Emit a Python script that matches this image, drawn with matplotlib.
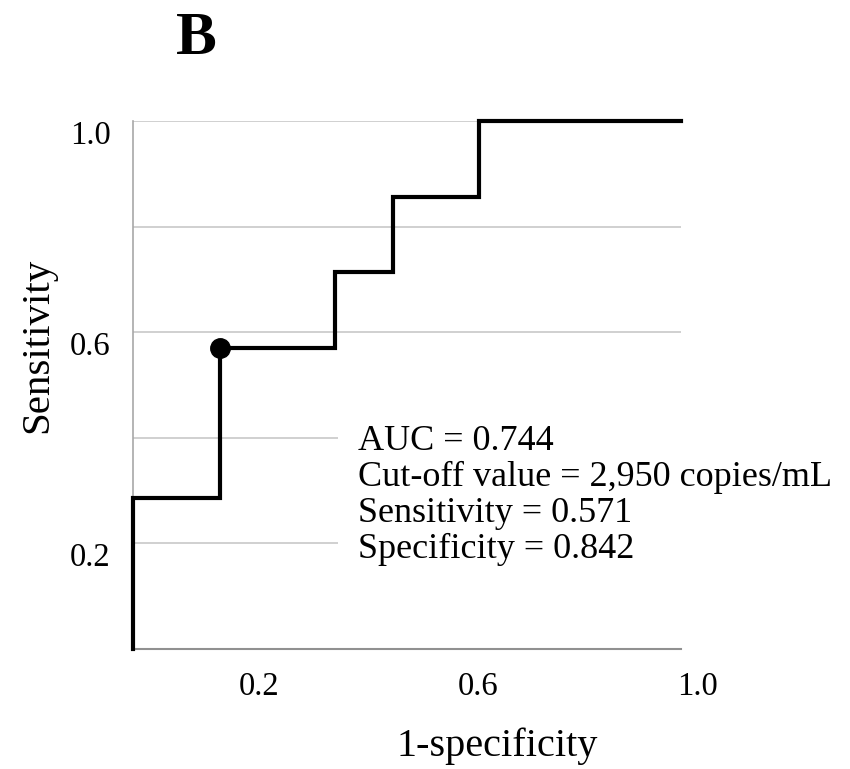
import matplotlib
matplotlib.use("Agg")
import matplotlib.pyplot as plt
import matplotlib.transforms as mtrans

plt.rcParams['font.family'] = ['Liberation Serif', 'DejaVu Serif']

# ROC curve points (1-specificity, sensitivity)
fpr = [0.0, 0.0, 0.158, 0.158, 0.368, 0.368, 0.474, 0.474, 0.632, 0.632, 1.0]
tpr = [0.0, 0.286, 0.286, 0.571, 0.571, 0.714, 0.714, 0.857, 0.857, 1.0, 1.0]
cutoff_point = (0.158, 0.571)
xticks = [0.2, 0.6, 1.0]
xtick_labels = ["0.2", "0.6", "1.0"]
yticks = [0.2, 0.6, 1.0]
ytick_labels = ["0.2", "0.6", "1.0"]
grid_y = [0.2, 0.4, 0.6, 0.8, 1.0]
annot_lines = ["AUC = 0.744", "Cut-off value = 2,950 copies/mL",
               "Sensitivity = 0.571", "Specificity = 0.842"]

fig = plt.figure(figsize=(8.5, 7.69), dpi=100)
ax = fig.add_axes([133/850, 1-649/769, (681-133)/850, (649-121)/769])
ax.set_xlim(0, 1)
ax.set_ylim(0, 1)

for gy in grid_y:
    ax.axhline(gy, color='#c8c8c8', lw=1.2, zorder=1)

ax.plot(fpr, tpr, color='black', lw=3.0, zorder=3, solid_joinstyle='miter',
        clip_on=False)
ax.plot([cutoff_point[0]], [cutoff_point[1]], 'o', color='black', ms=14, zorder=4)

for s in ['top', 'right']:
    ax.spines[s].set_visible(False)
ax.spines['left'].set_color('#a8a8a8')
ax.spines['bottom'].set_color('#909090')
ax.spines['left'].set_linewidth(1.2)
ax.spines['bottom'].set_linewidth(1.5)

ax.set_xticks(xticks)
ax.set_xticklabels(xtick_labels, fontsize=23.5)
ax.set_yticks(yticks)
ax.set_yticklabels(ytick_labels, fontsize=23.5)
ax.tick_params(axis='both', length=0)
ax.tick_params(axis='x', pad=16)
ax.tick_params(axis='y', pad=16)

dx = mtrans.ScaledTranslation(16/100, 0, fig.dpi_scale_trans)
for lab in ax.get_xticklabels():
    lab.set_transform(lab.get_transform() + dx)
dy = mtrans.ScaledTranslation(0, -11/100, fig.dpi_scale_trans)
for lab in ax.get_yticklabels():
    lab.set_transform(lab.get_transform() + dy)

ax.text(0.4106, 0.425, "\n".join(annot_lines), fontsize=26, va='top', ha='left',
        linespacing=1.12, zorder=2,
        bbox=dict(boxstyle='square,pad=0.55', facecolor='white', edgecolor='none'))

fig.text(497/850, 1-746/769, "1-specificity", fontsize=29, ha='center', va='center')
fig.text(38/850, 1-345/769, "Sensitivity", fontsize=29.5, ha='center', va='center',
         rotation=90)
fig.text(196/850, 1-39/769, "B", fontsize=44, fontweight='bold', ha='center', va='center')

fig.savefig("out.png", dpi=100)
